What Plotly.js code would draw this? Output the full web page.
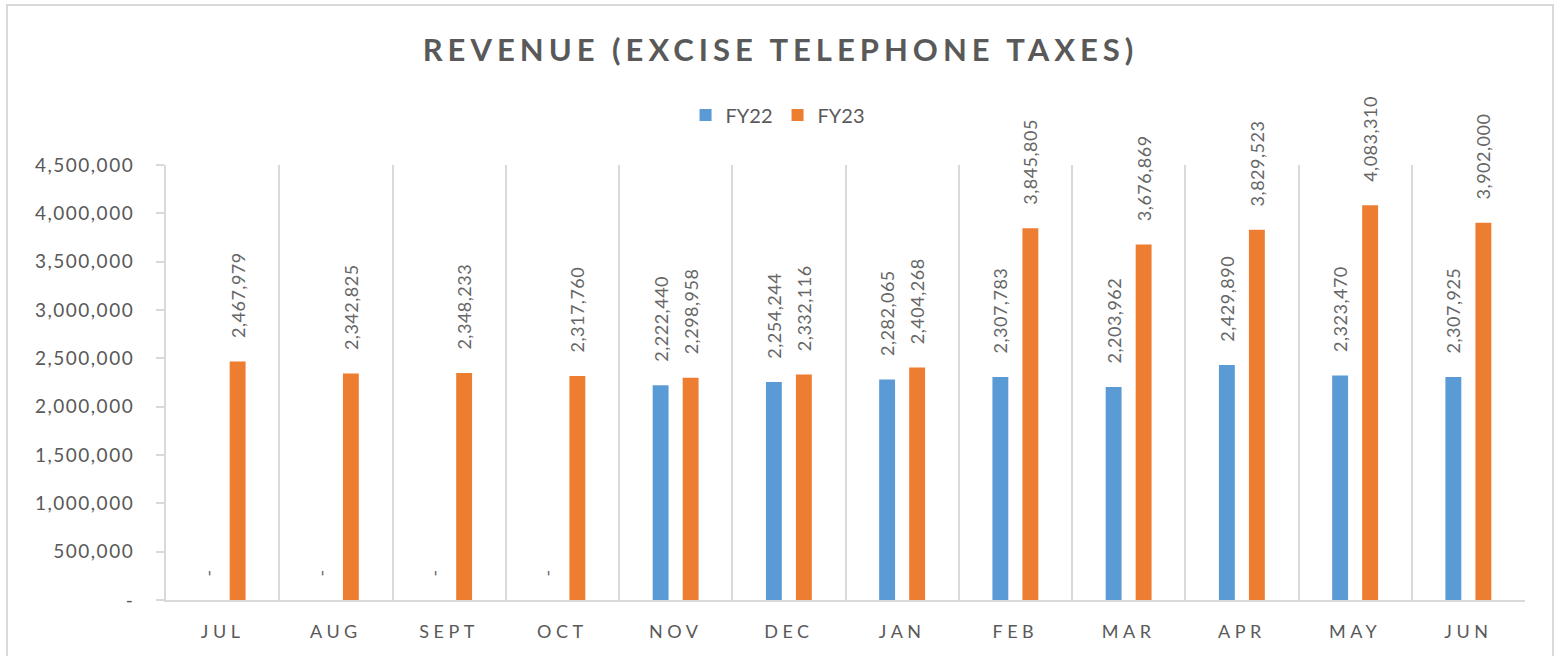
<!DOCTYPE html>
<html>
<head>
<meta charset="utf-8">
<script src="https://cdn.plot.ly/plotly-3.0.1.min.js"></script>
<style>
  html, body { margin: 0; padding: 0; background: #fff; }
  #chart { width: 1561px; height: 656px; }
  .gtitle { letter-spacing: 5px; }
  .xtick text { letter-spacing: 4.5px; }
  .ytick text { letter-spacing: 1.5px; }
  .bartext { letter-spacing: 0.5px; }
</style>
</head>
<body>
<div id="chart"></div>
<script>
const months = ["JUL", "AUG", "SEPT", "OCT", "NOV", "DEC", "JAN", "FEB", "MAR", "APR", "MAY", "JUN"];
const fy22 = [0, 0, 0, 0, 2222440, 2254244, 2282065, 2307783, 2203962, 2429890, 2323470, 2307925];
const fy23 = [2467979, 2342825, 2348233, 2317760, 2298958, 2332116, 2404268, 3845805, 3676869, 3829523, 4083310, 3902000];
const yTickVals = [0, 500000, 1000000, 1500000, 2000000, 2500000, 3000000, 3500000, 4000000, 4500000];
const yTickText = ["-", "500,000", "1,000,000", "1,500,000", "2,000,000", "2,500,000", "3,000,000", "3,500,000", "4,000,000", "4,500,000"];

const FONT = "Lato, 'Open Sans', sans-serif";
const GREY = "#595959";
const PAD = "\u00a0\u00a0\u00a0\u00a0";
function label(v) { return PAD + (v === 0 ? "-" : v.toLocaleString("en-US")); }

function barTrace(name, vals, color) {
  return {
    type: "bar", name: name, x: months, y: vals,
    marker: { color: color },
    text: vals.map(label), textposition: "outside", textangle: -90,
    constraintext: "none", cliponaxis: false,
    textfont: { family: FONT, size: 18, color: "#666666" },
    hoverinfo: "x+y"
  };
}

const data = [
  barTrace("FY22", fy22, "#5b9bd5"),
  barTrace("FY23", fy23, "#ed7d31")
];

const layout = {
  width: 1561, height: 656,
  margin: { l: 166, r: 36, t: 165, b: 56 },
  paper_bgcolor: "#fff", plot_bgcolor: "#fff",
  font: { family: FONT, color: GREY },
  title: {
    text: "<b>REVENUE (EXCISE TELEPHONE TAXES)</b>",
    font: { family: FONT, size: 31, color: GREY },
    x: 0.5, xanchor: "center", y: 1 - 50 / 656, yanchor: "middle"
  },
  barmode: "group", bargap: 0.47, bargroupgap: 0.47,
  showlegend: true,
  legend: {
    orientation: "h", x: 0.45, xanchor: "center", y: 1.115, yanchor: "middle",
    font: { family: FONT, size: 20, color: GREY }, itemwidth: 30
  },
  xaxis: {
    type: "category", tickson: "boundaries", showgrid: true, gridcolor: "#d9d9d9", gridwidth: 2,
    showline: true, linecolor: "#d9d9d9", linewidth: 2, ticks: "",
    tickfont: { family: FONT, size: 18, color: GREY }, ticklabelstandoff: 14,
    zeroline: false
  },
  yaxis: {
    range: [0, 4500000], tickvals: yTickVals, ticktext: yTickText,
    showgrid: false, zeroline: false, showline: true, linecolor: "#d9d9d9", linewidth: 2,
    ticks: "outside", ticklen: 8, tickcolor: "#d9d9d9", tickwidth: 2,
    tickfont: { family: FONT, size: 19, color: GREY }, ticklabelstandoff: 18
  },
  shapes: [{
    type: "rect", xref: "paper", yref: "paper",
    x0: (7 - 166) / 1359, x1: (1553 - 166) / 1359,
    y0: (600 - 700) / 435, y1: (600 - 5) / 435,
    line: { color: "#d9d9d9", width: 2 }, fillcolor: "rgba(0,0,0,0)", layer: "below"
  }]
};

Plotly.newPlot("chart", data, layout, { displayModeBar: false, responsive: false });
</script>
</body>
</html>
